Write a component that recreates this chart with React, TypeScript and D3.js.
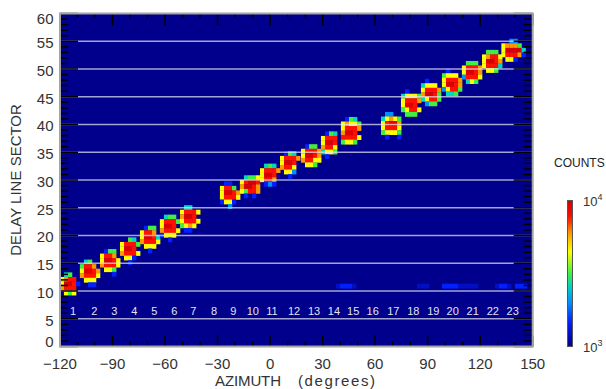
import React from "react";
import * as d3 from "d3";

// ---------- data ----------
const X_TICK_VALUES = [-120, -90, -60, -30, 0, 30, 60, 90, 120, 150];
const Y_TICK_VALUES = [0, 5, 10, 15, 20, 25, 30, 35, 40, 45, 50, 55, 60];
const GRID_VALUES = [5, 10, 15, 20, 25, 30, 35, 40, 45, 50, 55];

const SECTOR_LABELS = [
  "1", "2", "3", "4", "5", "6", "7", "8", "9", "10", "11", "12",
  "13", "14", "15", "16", "17", "18", "19", "20", "21", "22", "23",
];
const SECTOR_LABEL_AZ = [
  -112.6, -100.4, -89.0, -77.6, -66.1, -54.7, -43.9, -32.0, -21.0, -9.9, 1.1, 13.7,
  25.1, 36.5, 47.5, 58.6, 70.4, 81.8, 93.2, 104.3, 115.7, 127.2, 138.6,
];
const SECTOR_LABEL_ROW = 6.4;

// blob centres (azimuth, delay line sector) for detected sectors
const BLOB_AZ = [
  -114.3, -102.9, -91.4, -80.0, -68.6, -57.2, -45.7, -22.9, -11.5, 0.0, 11.4,
  23.4, 34.8, 46.2, 69.1, 80.5, 91.9, 103.9, 115.3, 126.8, 139.0,
];
const BLOB_SECTOR = [
  11.3, 13.2, 15.1, 17.2, 19.3, 21.3, 23.0, 27.3, 28.8, 30.9, 32.7,
  34.4, 36.3, 38.9, 39.8, 43.9, 45.8, 47.6, 49.4, 51.4, 53.4,
];
// count level codes per cell (rows top->bottom)
const BLOB_PATTERNS = [
  [".tg..", "yorr.", "yddrb", "orrr.", ".ygy."],
  [".tg..", "grro.", "yddro", "orrry", ".yyy.", "..bb."],
  [".bgg.", "yrro.", "yddry", "orrry", ".yyg.", "...b."],
  ["..gt.", "yrrrg", "yddr.", "orrry", ".yyb.", "..b.."],
  [".bgg.", "yrro.", "yddrt", "orrry", ".yyy.", "..b.."],
  [".tgg.", "yrrrg", "yddr.", "orrry", "byyy.", "..b.."],
  [".tt..", "yrrry", "oddr.", "yrrry", "gyoy.", ".bb.."],
  [".bb..", "yrrg.", "yddro", "yrrry", "byyb.", "..c.."],
  [".tggy", "yrddr", "oddro", "ygrro", ".b.b."],
  [".tgt.", "yrrro", "yddr.", "yrro.", ".bcb."],
  [".bgt.", "yrrro", "yddr.", "orry.", ".yyc.", "..b.."],
  [".bgg.", "yrrro", "yddro", "orryy", ".yyg."],
  [".bgt.", "yrrr.", "yddr.", "orry.", "tyyg.", ".b..."],
  [".bgt.", "yoyyg", "yrrro", "oddr.", "rrrry", "gyyg."],
  [".cc..", "tyoyg", "yrddo", "yrrry", "gyyyg", ".b..b"],
  [".b...", "tyyyg", "yrrro", "yddr.", "gyrry", ".ggg."],
  [".b...", "tyyy.", "yrrro", "oddrg", "tyrrg", ".cgg."],
  [".b...", "gyyy.", "yrrro", "yddro", "cyrrg", ".ttg."],
  [".ggg.", "yrrro", "yddro", "crrry", ".tyg."],
  [".ggg.", "yorry", "yddro", "yrrrt", ".yyg."],
  ["..cc..", "yooog.", "yddddt", "yrrrob", ".yyb.."],
];

const LEVEL_CODES = ["n", "b", "c", "t", "g", "y", "o", "r", "d"];
const LEVEL_COUNTS = [1200, 1480, 2000, 2630, 3160, 4470, 6030, 7590, 9550];

// weak background counts near sector 11
const NOISE_AZ = [
  38.8, 41.1, 43.4, 45.7, 48.0, 85.1, 87.3, 89.6, 99.3, 101.6, 103.9, 106.2, 108.5,
  110.8, 113.0, 115.3, 117.6, 129.6, 131.9, 134.2, 136.5, 141.0, 143.3, 145.6,
];
const NOISE_LEVEL = [
  "n", "b", "b", "b", "n", "n", "n", "n", "b", "b", "b", "b", "n",
  "n", "n", "n", "n", "n", "b", "b", "n", "b", "b", "b",
];
const NOISE_SECTOR = 10.9;

const COLORBAR_TICKS = [1000, 10000];
const COLORBAR_EXP = ["3", "4"];

// ---------- styling ----------
const CELL_AZ = 2.3;
const CELL_SECTOR = 0.82;
const FONT = "'Liberation Sans', Arial, Helvetica, sans-serif";
const COLOR_STOPS = [0, 0.17, 0.3, 0.42, 0.5, 0.65, 0.78, 0.88, 1];
const COLOR_RANGE = [
  "#00008c", "#0020ff", "#0090ff", "#00d8c0", "#40f040", "#ffff00", "#ff9900", "#ff1000", "#d00000",
];

export default function App() {
  const W = 606;
  const H = 389;
  const x = d3.scaleLinear().domain([-120, 150]).range([60, 532.7]);
  const y = d3.scaleLinear().domain([0, 60]).range([346.5, 13.5]);
  const frac = d3.scaleLog().domain([1000, 10000]).range([0, 1]).clamp(true);
  const ramp = d3
    .scaleLinear<string>()
    .domain(COLOR_STOPS)
    .range(COLOR_RANGE)
    .interpolate(d3.interpolateRgb);
  const color = (c: number) => ramp(frac(c));
  const fmt = d3.format("d");

  const [x0, x1] = x.range();
  const [yb, yt] = y.range();

  const xMinor = d3.range(-110, 150, 10).filter((v) => v % 30 !== 0);
  const yMinor = d3.range(1, 60, 1).filter((v) => v % 5 !== 0);

  type Cell = { az: number; s: number; count: number };
  const cells: Cell[] = [];
  BLOB_PATTERNS.forEach((pat, b) => {
    const nr = pat.length;
    const nc = Math.max(...pat.map((r) => r.length));
    pat.forEach((row, r) => {
      row.split("").forEach((ch, c) => {
        const li = LEVEL_CODES.indexOf(ch);
        if (li < 0) return;
        cells.push({
          az: BLOB_AZ[b] + (c - (nc - 1) / 2) * CELL_AZ,
          s: BLOB_SECTOR[b] - (r - (nr - 1) / 2) * CELL_SECTOR,
          count: LEVEL_COUNTS[li],
        });
      });
    });
  });
  NOISE_AZ.forEach((az, i) => {
    cells.push({ az, s: NOISE_SECTOR, count: LEVEL_COUNTS[LEVEL_CODES.indexOf(NOISE_LEVEL[i])] });
  });

  const cbX = 567.5;
  const cbW = 5;
  const cbY = d3.scaleLog().domain([1000, 10000]).range([346.5, 200.5]);
  const gradStops = d3.range(0, 1.0001, 0.05);

  return (
    <svg
      width={W}
      height={H}
      style={{ position: "absolute", left: 0, top: 0, background: "#fff" }}
      fontFamily={FONT}
    >
      <defs>
        <clipPath id="plotClip">
          <rect x={x0} y={yt} width={x1 - x0} height={yb - yt} />
        </clipPath>
        <linearGradient id="cbGrad" x1="0" y1="1" x2="0" y2="0">
          {gradStops.map((t) => (
            <stop key={t} offset={t} stopColor={ramp(t)} />
          ))}
        </linearGradient>
      </defs>

      {/* plot background */}
      <rect x={x0} y={yt} width={x1 - x0} height={yb - yt} fill={ramp(0)} />

      {/* heatmap cells */}
      <g clipPath="url(#plotClip)">
        {cells.map((d, i) => {
          const xa = x(d.az - CELL_AZ / 2);
          const xb = x(d.az + CELL_AZ / 2);
          const ya = y(d.s + CELL_SECTOR / 2);
          const yc = y(d.s - CELL_SECTOR / 2);
          return (
            <rect
              key={i}
              x={xa}
              y={ya}
              width={xb - xa + 0.3}
              height={yc - ya + 0.3}
              fill={color(d.count)}
            />
          );
        })}
      </g>

      {/* horizontal sector grid lines */}
      {GRID_VALUES.map((v) => (
        <line
          key={v}
          x1={x0}
          x2={x1}
          y1={y(v)}
          y2={y(v)}
          stroke="rgba(228,228,238,0.72)"
          strokeWidth={1.7}
        />
      ))}

      {/* sector numbers */}
      {SECTOR_LABELS.map((t, i) => (
        <text
          key={t}
          x={x(SECTOR_LABEL_AZ[i])}
          y={y(SECTOR_LABEL_ROW)}
          dy="0.35em"
          textAnchor="middle"
          fontSize={11}
          fill="#e4e4ee"
        >
          {t}
        </text>
      ))}

      {/* ticks */}
      <g stroke="#000" strokeWidth={1.5}>
        {X_TICK_VALUES.map((v) => (
          <g key={"xt" + v}>
            <line x1={x(v)} x2={x(v)} y1={yt} y2={yt + 12} />
            <line x1={x(v)} x2={x(v)} y1={yb} y2={yb - 11} />
          </g>
        ))}
        {xMinor.map((v) => (
          <g key={"xm" + v}>
            <line x1={x(v)} x2={x(v)} y1={yt} y2={yt + 4.5} />
            <line x1={x(v)} x2={x(v)} y1={yb} y2={yb - 4.5} />
          </g>
        ))}
        {Y_TICK_VALUES.map((v) => (
          <g key={"yt" + v}>
            <line x1={x0} x2={x0 + 18} y1={y(v)} y2={y(v)} />
            <line x1={x1} x2={x1 - 19} y1={y(v)} y2={y(v)} />
          </g>
        ))}
        {yMinor.map((v) => (
          <g key={"ym" + v}>
            <line x1={x0} x2={x0 + 8} y1={y(v)} y2={y(v)} />
            <line x1={x1} x2={x1 - 9} y1={y(v)} y2={y(v)} />
          </g>
        ))}
      </g>

      {/* frame */}
      <rect
        x={x0}
        y={yt}
        width={x1 - x0}
        height={yb - yt}
        fill="none"
        stroke="#a4a4a4"
        strokeWidth={2}
      />

      {/* x tick labels */}
      {X_TICK_VALUES.map((v) => (
        <text
          key={"xl" + v}
          x={x(v)}
          y={369}
          textAnchor="middle"
          fontSize={15}
          fill="#333"
        >
          {fmt(v)}
        </text>
      ))}

      {/* y tick labels */}
      {Y_TICK_VALUES.map((v) => (
        <text
          key={"yl" + v}
          x={53.5}
          y={Math.min(342, Math.max(19, y(v) + 1.5))}
          dy="0.35em"
          textAnchor="end"
          fontSize={15}
          fill="#333"
        >
          {v}
        </text>
      ))}

      {/* axis titles */}
      <text x={215} y={386} fontSize={15} fill="#333" textLength={66} lengthAdjust="spacing">
        AZIMUTH
      </text>
      <text x={298} y={386} fontSize={15} fill="#333" textLength={77} lengthAdjust="spacing">
        (degrees)
      </text>
      <text
        transform={`translate(20.5,${180}) rotate(-90)`}
        textAnchor="middle"
        fontSize={15}
        fill="#333"
      >
        DELAY LINE SECTOR
      </text>

      {/* colour bar */}
      <text x={554} y={167} fontSize={12} fill="#222">
        COUNTS
      </text>
      <rect
        x={cbX}
        y={cbY(10000)}
        width={cbW}
        height={cbY(1000) - cbY(10000)}
        fill="url(#cbGrad)"
        stroke="#555"
        strokeWidth={1}
      />
      {COLORBAR_TICKS.map((v, i) => (
        <text key={"cb" + v} x={583} y={cbY(v) + 5} fontSize={13} fill="#333">
          10
          <tspan dy={-6} fontSize={9}>
            {COLORBAR_EXP[i]}
          </tspan>
        </text>
      ))}
    </svg>
  );
}
